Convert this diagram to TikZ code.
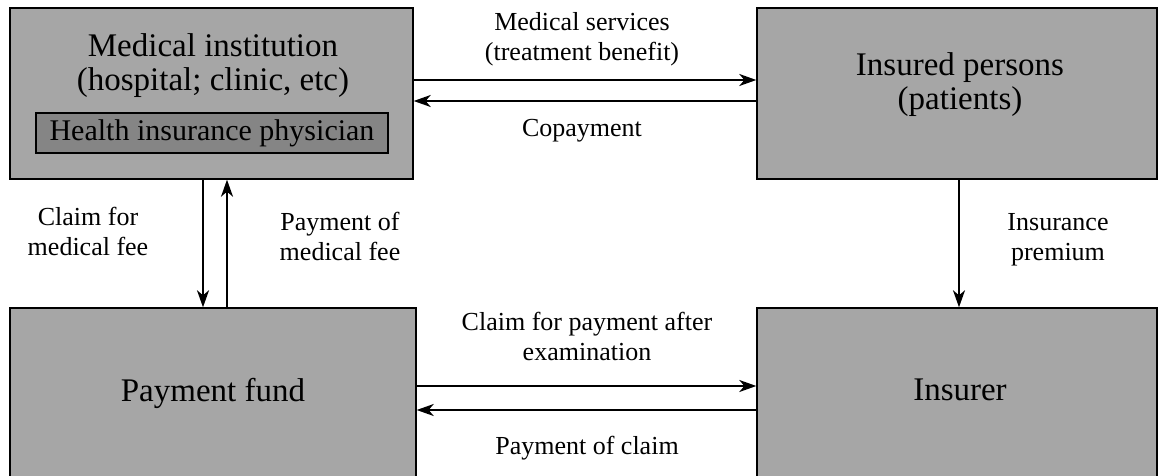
\documentclass[tikz,border=0pt]{standalone}
\usepackage{fontspec}
\setmainfont{Liberation Serif}
\usetikzlibrary{arrows.meta}
\begin{document}
\begin{tikzpicture}[x=1pt,y=-1pt,
  box/.style={draw=black,line width=1.4pt,fill=black!35,inner sep=0pt,anchor=center},
  inbox/.style={draw=black,line width=2.2pt,fill=black!48,inner sep=0pt,anchor=center,
    minimum width=352pt,minimum height=40pt,font=\fontsize{30}{34}\selectfont},
  bigtxt/.style={font=\fontsize{33}{34}\selectfont,align=center,inner sep=0pt},
  lbl/.style={font=\fontsize{26}{30}\selectfont,align=center,inner sep=0pt},
  flow/.style={line width=2pt,-{Stealth[length=17pt,width=12pt,inset=5pt]}}]
\useasboundingbox (0,0) rectangle (1160,476);
% boxes
\node[box,minimum width=403pt,minimum height=171pt] (med) at (211.5,93.5) {};
\node[box,minimum width=400pt,minimum height=171pt] (ins) at (957,93.5) {};
\node[box,minimum width=406pt,minimum height=170pt] (fund) at (213,393) {};
\node[box,minimum width=400pt,minimum height=170pt] (insr) at (957,393) {};
% texts in boxes
\node[bigtxt] (medt) at (213,66) {Medical institution\\(hospital; clinic, etc)};
\node[inbox] (phys) at (212,133) {Health insurance physician};
\node[bigtxt] (inst) at (960,85) {Insured persons\\(patients)};
\node[bigtxt] (fundt) at (213,393) {Payment fund};
\node[bigtxt] (insrt) at (960,390) {Insurer};
% helper coordinates
\coordinate (r1) at (0,80);
\coordinate (r2) at (0,101);
\coordinate (r3) at (0,386);
\coordinate (r4) at (0,410);
\coordinate (c1) at (203,0);
\coordinate (c2) at (227,0);
\coordinate (c3) at (959,0);
% arrows
\draw[flow] (med.east |- r1) -- (ins.west |- r1);
\draw[flow] (ins.west |- r2) -- (med.east |- r2);
\draw[flow] (fund.east |- r3) -- (insr.west |- r3);
\draw[flow] (insr.west |- r4) -- (fund.east |- r4);
\draw[flow] (med.south -| c1) -- (fund.north -| c1);
\draw[flow] (fund.north -| c2) -- (med.south -| c2);
\draw[flow] (ins.south -| c3) -- (insr.north -| c3);
% labels
\node[lbl] (l1) at (582,39) {Medical services\\(treatment benefit)};
\node[lbl] (l2) at (582,131) {Copayment};
\node[lbl] (l3) at (88,231) {Claim for\\medical fee};
\node[lbl] (l4) at (340,236) {Payment of\\medical fee};
\node[lbl] (l5) at (1058,240) {Insurance\\premium};
\node[lbl] (l6) at (587,336) {Claim for payment after\\examination};
\node[lbl] (l7) at (587,448) {Payment of claim};
\end{tikzpicture}
\end{document}
